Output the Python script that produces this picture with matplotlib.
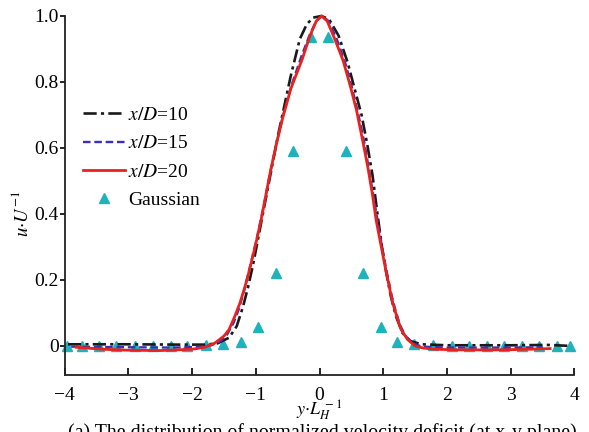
import matplotlib
matplotlib.use("Agg")
import matplotlib.pyplot as plt

# velocity deficit profiles u/U against y/L_H at three downstream stations
x10_y = [-3.95, -3.0, -2.2, -1.8, -1.6, -1.42, -1.30, -1.20, -1.12, -1.04, -0.95, -0.85,
         -0.75, -0.65, -0.55, -0.45, -0.31, -0.20, -0.10, 0.03, 0.15, 0.30, 0.44, 0.55,
         0.66, 0.75, 0.83, 0.91, 0.98, 1.05, 1.12, 1.20, 1.30, 1.42, 1.60, 2.0, 3.0, 3.6, 3.95]
x10_u = [0.005, 0.005, 0.004, 0.004, 0.008, 0.025, 0.06, 0.12, 0.18, 0.25, 0.34, 0.44,
         0.54, 0.64, 0.73, 0.82, 0.93, 0.975, 0.995, 1.0, 0.99, 0.94, 0.86, 0.78,
         0.70, 0.61, 0.52, 0.40, 0.30, 0.22, 0.15, 0.09, 0.04, 0.015, 0.005, 0.002, 0.002, 0.003, 0.0]

x15_y = [-3.9, -3.0, -2.3, -1.9, -1.7, -1.55, -1.45, -1.35, -1.27, -1.18, -1.08, -0.98,
         -0.88, -0.78, -0.68, -0.57, -0.44, -0.28, -0.15, -0.05, 0.04, 0.14, 0.27, 0.40,
         0.50, 0.60, 0.70, 0.78, 0.85, 0.92, 0.99, 1.06, 1.13, 1.19, 1.26, 1.35, 1.47, 1.6,
         2.0, 3.0, 3.5]
x15_u = [-0.002, -0.004, -0.005, -0.003, 0.002, 0.015, 0.035, 0.07, 0.11, 0.17, 0.25, 0.33,
         0.42, 0.52, 0.61, 0.70, 0.79, 0.88, 0.945, 0.985, 1.0, 0.985, 0.93, 0.86,
         0.79, 0.71, 0.62, 0.53, 0.45, 0.37, 0.29, 0.22, 0.155, 0.11, 0.065, 0.03, 0.008, -0.002,
         -0.005, -0.005, -0.004]

x20_y = [-3.82, -3.4, -3.0, -2.5, -2.0, -1.8, -1.65, -1.5, -1.42, -1.33, -1.25, -1.17,
         -1.10, -1.0, -0.92, -0.84, -0.77, -0.68, -0.58, -0.45, -0.27, -0.15, -0.05, 0.03,
         0.12, 0.25, 0.37, 0.48, 0.58, 0.68, 0.76, 0.83, 0.89, 0.97, 1.04, 1.10, 1.15, 1.22,
         1.28, 1.38, 1.5, 1.62, 1.8, 2.2, 2.8, 3.3, 3.62]
x20_u = [-0.004, -0.010, -0.013, -0.014, -0.010, -0.004, 0.008, 0.03, 0.05, 0.09, 0.13, 0.18,
         0.23, 0.31, 0.38, 0.46, 0.53, 0.61, 0.69, 0.78, 0.87, 0.94, 0.985, 1.0,
         0.985, 0.925, 0.865, 0.79, 0.715, 0.62, 0.54, 0.46, 0.38, 0.30, 0.23, 0.175, 0.13, 0.085,
         0.05, 0.02, 0.0, -0.006, -0.010, -0.012, -0.012, -0.010, -0.008]

gauss_y = [-3.96, -3.73, -3.46, -3.19, -2.89, -2.62, -2.34, -2.08, -1.78, -1.52, -1.24,
           -0.96, -0.69, -0.42, -0.13, 0.13, 0.41, 0.69, 0.96, 1.21, 1.49, 1.78, 2.08,
           2.34, 2.63, 2.89, 3.18, 3.44, 3.73, 3.93]
gauss_u = [0.0, 0.0, 0.0, 0.0, 0.0, 0.0, 0.0, 0.0, 0.002, 0.005, 0.012,
           0.058, 0.22, 0.59, 0.935, 0.935, 0.59, 0.22, 0.058, 0.012, 0.005, 0.002, 0.0,
           0.0, 0.0, 0.0, 0.0, 0.0, 0.0, 0.0]

xticks = [-4, -3, -2, -1, 0, 1, 2, 3, 4]
yticks = [0, 0.2, 0.4, 0.6, 0.8, 1.0]
ytick_labels = ["0", "0.2", "0.4", "0.6", "0.8", "1.0"]

plt.rcParams["font.family"] = ["Liberation Serif", "DejaVu Serif"]
plt.rcParams["mathtext.fontset"] = "stix"

fig = plt.figure(figsize=(5.89, 4.32), dpi=100)
ax = fig.add_axes([0.110, 0.132, 0.865, 0.831])

ax.plot(x10_y, x10_u, color="#1a1a1a", lw=1.9, dashes=(5, 1.6, 1.2, 1.6),
        label=r"$x/D$=10", clip_on=False, zorder=3)
ax.plot(x15_y, x15_u, color="#3b2fb8", lw=1.7, dashes=(3.2, 1.6),
        label=r"$x/D$=15", clip_on=False, zorder=3)
ax.plot(x20_y, x20_u, color="#e8221c", lw=2.0,
        label=r"$x/D$=20", clip_on=False, zorder=4)
ax.plot(gauss_y, gauss_u, ls="none", marker="^", ms=7, color="#1fb2bb",
        label="Gaussian", clip_on=False, zorder=2)

ax.set_xlim(-4, 4)
ax.set_ylim(-0.088, 1.0)
ax.set_xticks(xticks)
ax.set_yticks(yticks)
ax.set_yticklabels(ytick_labels)

for side in ("top", "right"):
    ax.spines[side].set_visible(False)
for side in ("left", "bottom"):
    ax.spines[side].set_linewidth(1.3)
    ax.spines[side].set_color("#222222")

ax.tick_params(axis="x", direction="in", length=5, width=1.2, pad=9, labelsize=14)
ax.tick_params(axis="y", direction="out", length=3.5, width=1.2, pad=1, labelsize=14)

ax.set_xlabel(r"$y{\cdot}L_H^{\,-1}$", fontsize=13)
ax.xaxis.set_label_coords(0.5, -0.064)
ax.xaxis.label.set_va("top")
ax.set_ylabel(r"$u{\cdot}U^{-1}$", fontsize=13.5)
ax.yaxis.set_label_coords(-0.065, 0.45)

ax.legend(loc="upper left", bbox_to_anchor=(0.035, 0.748), frameon=False,
          fontsize=14, handlelength=2.2, handletextpad=0.15,
          labelspacing=0.55, borderaxespad=0, borderpad=0)

fig.text(0.115, 1 - 423 / 432, "(a) The distribution of normalized velocity deficit (at x-y plane)",
         fontsize=14.3, ha="left", va="top")

fig.savefig("out.png", dpi=100)
